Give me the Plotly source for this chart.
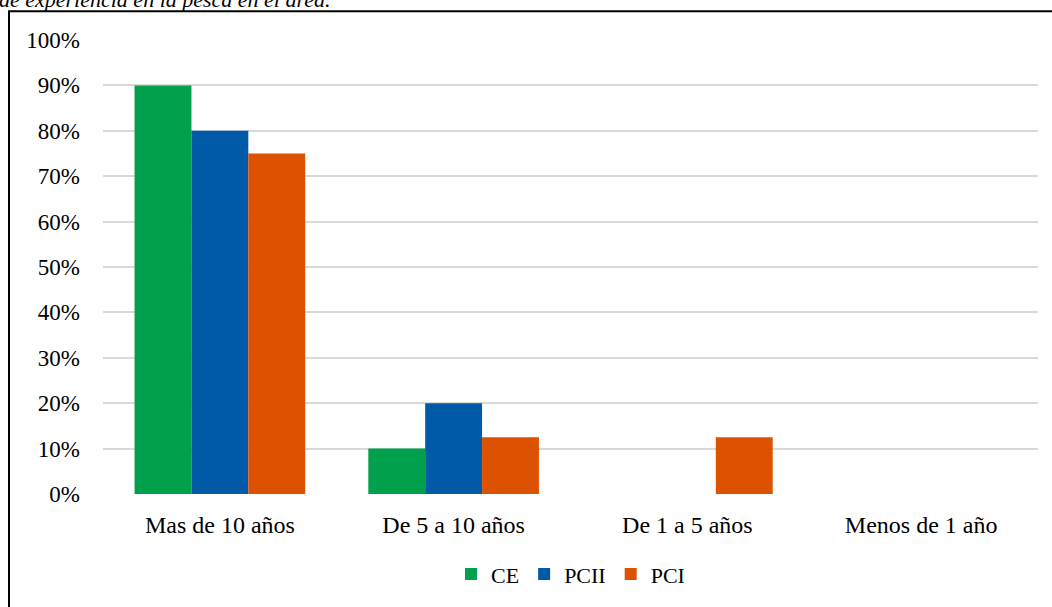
import plotly.graph_objects as go

categories = ["Mas de 10 años", "De 5 a 10 años", "De 1 a 5 años", "Menos de 1 año"]
ce_values = [90, 10, 0, 0]
pcii_values = [80, 20, 0, 0]
pci_values = [75, 12.5, 12.5, 0]
y_ticks = list(range(0, 101, 10))
y_tick_labels = [f"{v}%" for v in y_ticks]

W, H = 1052, 607
L, R, T, B = 103, 14, 40, 109
pw, ph = W - L - R, H - T - B

def px(x):
    return (x - L) / pw

def py(y):
    return (H - B - y) / ph

FONT = "Liberation Serif, Times New Roman, serif"

fig = go.Figure()
series = [("CE", ce_values, "#01a04c"), ("PCII", pcii_values, "#005aa8"), ("PCI", pci_values, "#dd5200")]
for name, vals, col in series:
    fig.add_trace(go.Bar(name=name, x=categories, y=vals, marker=dict(color=col, line=dict(width=0))))

fig.update_layout(
    width=W, height=H,
    margin=dict(l=L, r=R, t=T, b=B),
    paper_bgcolor="white", plot_bgcolor="white",
    barmode="group", bargap=0.27, bargroupgap=0,
    font=dict(family=FONT, size=22, color="#000000"),
    showlegend=True,
    legend=dict(orientation="h", x=0.5, xanchor="center", y=py(579), yanchor="middle",
                font=dict(size=22), itemwidth=30, tracegroupgap=0,
                itemsizing="constant"),
    xaxis=dict(showgrid=False, showline=False, ticks="", ticklabelstandoff=14,
               tickfont=dict(size=24)),
    yaxis=dict(range=[0, 100], tickvals=y_ticks, ticktext=y_tick_labels,
               showgrid=True, gridcolor="#d9d9d9", gridwidth=1.5,
               zeroline=False, showline=False, ticks="", ticklabelstandoff=22,
               tickfont=dict(size=23)),
    shapes=[dict(type="rect", xref="paper", yref="paper",
                 x0=px(9), x1=px(W + 20), y0=py(H + 20), y1=py(11),
                 line=dict(color="black", width=2), fillcolor="rgba(0,0,0,0)", layer="above")],
    annotations=[dict(text="<i>de experiencia en la pesca en el área.</i>", xref="paper", yref="paper",
                      x=px(-3), y=py(-1), xanchor="left", yanchor="middle", showarrow=False,
                      font=dict(family=FONT, size=22, color="black"))],
)

fig.write_html("out.html", config={"displayModeBar": False},
               post_script="document.body.style.margin='0px';")
